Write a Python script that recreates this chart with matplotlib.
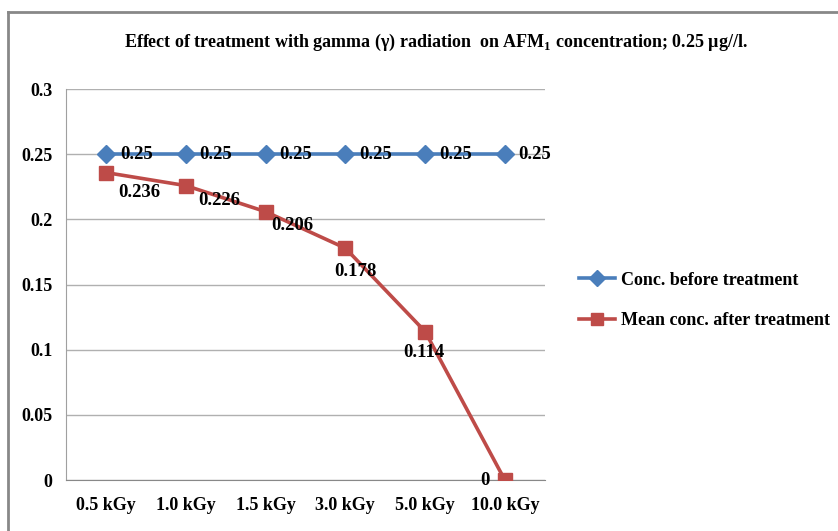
import matplotlib.pyplot as plt
from matplotlib.lines import Line2D

plt.rcParams['font.family'] = ['Liberation Serif', 'DejaVu Serif']
plt.rcParams['font.weight'] = 'bold'
plt.rcParams['mathtext.fontset'] = 'custom'
plt.rcParams['mathtext.rm'] = 'Liberation Serif:bold'
plt.rcParams['mathtext.bf'] = 'Liberation Serif:bold'

doses = ["0.5 kGy", "1.0 kGy", "1.5 kGy", "3.0 kGy", "5.0 kGy", "10.0 kGy"]
before = [0.25, 0.25, 0.25, 0.25, 0.25, 0.25]
after = [0.236, 0.226, 0.206, 0.178, 0.114, 0]
after_labels = ["0.236", "0.226", "0.206", "0.178", "0.114", "0"]

# label offsets in points (hand placed, like the original)
after_offsets = [(24, -14), (24, -11), (19, -10), (7, -17), (-1, -15), (-11, 0)]
after_ha = ["center", "center", "center", "center", "center", "right"]

blue = "#4A7EBB"
red = "#BE4B48"

fig = plt.figure(figsize=(8.38, 5.31), dpi=100)
ax = fig.add_axes([0.079, 0.096, 0.571, 0.736])

x = list(range(len(doses)))
ax.plot(x, before, color=blue, lw=2.6, marker="D", ms=9, label="Conc. before treatment", zorder=3)
ax.plot(x, after, color=red, lw=2.6, marker="s", ms=10, label="Mean conc. after treatment", zorder=3)

for xi, v in zip(x, before):
    ax.annotate(f"{v:g}", (xi, v), xytext=(10, 0), textcoords="offset points",
                ha="left", va="center", fontsize=13.5, fontweight="bold")
for xi, v, lab, off, ha in zip(x, after, after_labels, after_offsets, after_ha):
    ax.annotate(lab, (xi, v), xytext=off, textcoords="offset points",
                ha=ha, va="center", fontsize=13.5, fontweight="bold")

ax.set_xlim(-0.5, len(doses) - 0.5)
ax.set_ylim(0, 0.3)
ax.set_yticks([0, 0.05, 0.1, 0.15, 0.2, 0.25, 0.3])
ax.set_yticklabels(["0", "0.05", "0.1", "0.15", "0.2", "0.25", "0.3"])
ax.set_xticks(x)
ax.set_xticklabels(doses)
ax.tick_params(length=0, labelsize=13, pad=12)
ax.tick_params(axis="y", pad=10)
ax.grid(axis="y", color="#B0B0B0", lw=1)
ax.set_axisbelow(True)
for s in ["top", "right"]:
    ax.spines[s].set_visible(False)
ax.spines["left"].set_color("#A0A0A0")
ax.spines["bottom"].set_color("#888888")

fig.text(0.52, 0.92, "Effect of treatment with gamma (\u03b3) radiation  on AFM$_\\mathrm{1}$ concentration; 0.25 \u00b5g//l.",
         ha="center", va="center", fontsize=13, fontweight="bold")

handles = [Line2D([], [], color=blue, lw=2.6, marker="D", ms=8),
           Line2D([], [], color=red, lw=2.6, marker="s", ms=9)]
fig.legend(handles, ["Conc. before treatment", "Mean conc. after treatment"],
           loc="center left", bbox_to_anchor=(0.672, 0.434), frameon=False,
           fontsize=13, handlelength=2.0, labelspacing=1.3, handletextpad=0.3)

# outer chart border (top and left visible)
fig.add_artist(Line2D([0.0095, 1], [0.977, 0.977], color="#888888", lw=2, transform=fig.transFigure))
fig.add_artist(Line2D([0.0095, 0.0095], [0, 0.977], color="#888888", lw=2, transform=fig.transFigure))

plt.savefig("out.png", dpi=100)
